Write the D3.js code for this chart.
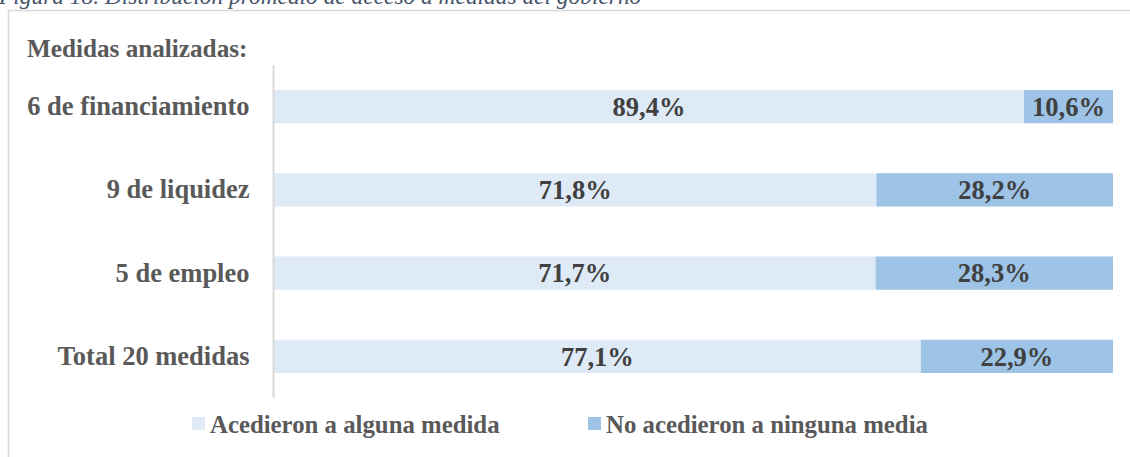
<!DOCTYPE html>
<html>
<head>
<meta charset="utf-8">
<script src="https://cdn.jsdelivr.net/npm/d3@7"></script>
<style>
  body { margin: 0; background: #fff; }
  svg { display: block; }
</style>
</head>
<body>
<svg width="1130" height="457"></svg>
<script>
const categories = ["6 de financiamiento", "9 de liquidez", "5 de empleo", "Total 20 medidas"];
const accedieron = [89.4, 71.8, 71.7, 77.1];
const noAccedieron = [10.6, 28.2, 28.3, 22.9];
const seriesNames = ["Acedieron a alguna medida", "No acedieron a ninguna media"];
const colors = ["#DEEAF6", "#9DC3E6"];

const svg = d3.select("svg");
const font = "'Liberation Serif', 'Times New Roman', serif";

// caption above the chart frame (cut at top in the original)
svg.append("text")
  .attr("x", -1).attr("y", 4)
  .style("font", `italic 23.4px ${font}`)
  .attr("fill", "#44546A")
  .text("Figura 18. Distribución promedio de acceso a medidas del gobierno");

// chart frame
svg.append("rect")
  .attr("x", 8.5).attr("y", 10.5)
  .attr("width", 1200).attr("height", 500)
  .attr("fill", "none")
  .attr("stroke", "#D9D9D9")
  .attr("stroke-width", 1.5);

svg.append("text")
  .attr("x", 27).attr("y", 57)
  .style("font", `bold 25.2px ${font}`)
  .attr("fill", "#595959")
  .text("Medidas analizadas:");

const margin = { top: 65, left: 274, right: 17, bottom: 59 };
const width = 1130, height = 457;

const x = d3.scaleLinear().domain([0, 100]).range([margin.left, width - margin.right]);
const y = d3.scaleBand().domain(categories).range([margin.top, height - margin.bottom]).paddingInner(0.6).paddingOuter(0.3);

const rows = categories.map((c, i) => ({ cat: c, vals: [accedieron[i], noAccedieron[i]] }));

const stack = d3.stack().keys([0, 1]).value((d, k) => d.vals[k]);
const layers = stack(rows);

const g = svg.append("g");
layers.forEach((layer, k) => {
  g.append("g")
    .selectAll("rect")
    .data(layer)
    .join("rect")
    .attr("x", d => x(d[0]))
    .attr("y", d => y(d.data.cat))
    .attr("width", d => x(d[1]) - x(d[0]))
    .attr("height", y.bandwidth())
    .attr("fill", colors[k]);

  g.append("g")
    .selectAll("text")
    .data(layer)
    .join("text")
    .attr("x", d => (x(d[0]) + x(d[1])) / 2)
    .attr("y", d => y(d.data.cat) + y.bandwidth() / 2)
    .attr("dy", "0.35em")
    .attr("text-anchor", "middle")
    .style("font", `bold 26.5px ${font}`)
    .attr("fill", "#404040")
    .text(d => d3.format(".1f")(d.data.vals[k]).replace(".", ",") + "%");
});

// category axis
const yAxis = svg.append("g")
  .attr("transform", `translate(${margin.left - 0.5},0)`)
  .call(d3.axisLeft(y).tickSize(0).tickPadding(24));
yAxis.select(".domain")
  .attr("d", `M0,${margin.top}V${height - margin.bottom}`)
  .attr("stroke", "#D9D9D9")
  .attr("stroke-width", 2);
yAxis.selectAll("text")
  .style("font", `bold 26.5px ${font}`)
  .attr("fill", "#595959");

// legend
const legendX = [192, 588];
const legend = svg.append("g")
  .selectAll("g")
  .data(seriesNames)
  .join("g")
  .attr("transform", (d, i) => `translate(${legendX[i]},424)`);
legend.append("rect")
  .attr("x", 0).attr("y", -7)
  .attr("width", 13).attr("height", 13)
  .attr("fill", (d, i) => colors[i]);
legend.append("text")
  .attr("x", 18).attr("dy", "0.35em")
  .style("font", `bold 24.8px ${font}`)
  .attr("fill", "#595959")
  .text(d => d);
</script>
</body>
</html>
